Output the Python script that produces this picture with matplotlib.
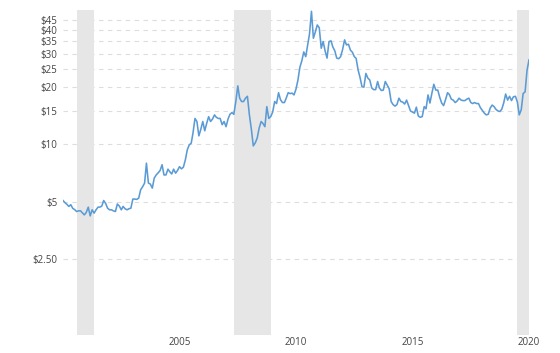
import numpy as np
import pandas as pd
import matplotlib
matplotlib.use('Agg')
import matplotlib.pyplot as plt

plt.rcParams['font.family'] = ['Open Sans', 'DejaVu Sans']

# monthly silver price (USD/oz), Aug 2000 - Aug 2020
prices = [
    # 2000 (Aug-Dec)
    5.08, 4.95, 4.85, 4.73, 4.83,
    # 2001
    4.62, 4.55, 4.45, 4.48, 4.49, 4.38, 4.27, 4.40, 4.69, 4.22, 4.54, 4.36,
    # 2002
    4.54, 4.69, 4.69, 4.75, 5.08, 4.90, 4.63, 4.54, 4.54, 4.48, 4.45, 4.87,
    # 2003
    4.75, 4.54, 4.73, 4.60, 4.54, 4.60, 4.63, 5.17, 5.17, 5.15, 5.23, 5.78,
    # 2004
    6.00, 6.27, 7.98, 6.27, 6.20, 5.90, 6.66, 6.92, 7.10, 7.30, 7.83, 6.92,
    # 2005
    6.92, 7.42, 7.20, 7.00, 7.42, 7.07, 7.30, 7.65, 7.45, 7.60, 8.30, 9.37,
    # 2006
    9.95, 10.16, 11.5, 13.7, 13.2, 11.1, 12.0, 13.2, 11.8, 12.9, 14.0, 13.2,
    # 2007
    13.6, 14.3, 13.9, 13.7, 13.7, 12.7, 13.2, 12.4, 13.6, 14.4, 14.7, 14.4,
    # 2008
    16.8, 20.3, 17.5, 16.8, 16.8, 17.5, 17.9, 14.3, 12.0, 9.83, 10.2, 10.8,
    # 2009
    12.2, 13.2, 12.9, 12.4, 15.8, 13.7, 14.0, 14.8, 16.8, 16.4, 18.7, 17.2,
    # 2010
    16.6, 16.6, 17.5, 18.7, 18.5, 18.6, 18.2, 19.5, 21.8, 25.4, 27.5, 30.6,
    # 2011
    28.9, 33.5, 38.0, 50.0, 36.1, 39.0, 42.4, 41.0, 32.0, 34.7, 31.0, 28.4,
    # 2012
    34.7, 35.0, 32.5, 31.0, 28.4, 28.2, 28.9, 31.5, 35.4, 33.3, 33.6, 31.3,
    # 2013
    30.5, 28.9, 28.3, 24.6, 22.5, 20.1, 20.0, 23.6, 22.3, 21.8, 19.8, 19.4,
    # 2014
    19.4, 21.4, 19.8, 19.2, 19.3, 21.4, 20.5, 19.6, 16.8, 16.2, 15.9, 16.2,
    # 2015
    17.5, 16.8, 16.7, 16.3, 17.1, 16.0, 15.0, 14.8, 14.6, 15.7, 14.1, 13.9,
    # 2016
    14.0, 15.8, 15.4, 18.2, 16.5, 18.6, 20.7, 19.3, 19.3, 17.7, 16.5, 16.0,
    # 2017
    17.2, 18.7, 18.3, 17.3, 17.1, 16.6, 16.9, 17.5, 17.1, 17.0, 17.0, 17.3,
    # 2018
    17.5, 16.6, 16.4, 16.6, 16.4, 16.4, 15.6, 15.1, 14.6, 14.3, 14.4, 15.5,
    # 2019
    16.1, 15.8, 15.3, 15.0, 14.9, 15.3, 16.5, 18.4, 17.1, 17.9, 17.0, 17.8,
    # 2020 (Jan-Aug)
    17.9, 16.7, 14.3, 15.2, 18.5, 18.9, 24.5, 27.8,
]
dates = pd.date_range('2000-08-01', periods=len(prices), freq='MS')

recessions = [('2001-03-01', '2001-11-30'),
              ('2007-12-01', '2009-06-30'),
              ('2020-02-01', '2020-08-01')]

y_ticks = [2.5, 5, 10, 15, 20, 25, 30, 35, 40, 45]
y_labels = ['$2.50', '$5', '$10', '$15', '$20', '$25', '$30', '$35', '$40', '$45']
x_years = [2005, 2010, 2015, 2020]

fig = plt.figure(figsize=(5.6, 3.53), dpi=100)
ax = fig.add_axes([63 / 560, 18 / 353, (529 - 63) / 560, 325 / 353])

for start, end in recessions:
    ax.axvspan(pd.Timestamp(start), pd.Timestamp(end), color='#e6e6e6', lw=0, zorder=1)

ax.plot(dates, prices, color='#5b9bd5', lw=1.15, zorder=3)

ax.set_yscale('log')
ax.set_ylim(1.0, 50.8)
ax.set_xlim(dates[0], dates[-1])

ax.yaxis.set_major_locator(matplotlib.ticker.FixedLocator(y_ticks))
ax.yaxis.set_minor_locator(matplotlib.ticker.NullLocator())
ax.set_yticklabels(y_labels)
ax.set_xticks([pd.Timestamp(f'{y}-08-01') for y in x_years])
ax.set_xticklabels([str(y) for y in x_years])

ax.grid(axis='y', color='#dddddd', lw=0.8, linestyle=(0, (4, 4)), zorder=0)
ax.set_axisbelow(True)
for s in ax.spines.values():
    s.set_visible(False)
ax.tick_params(axis='both', length=0, labelsize=7, colors='#444444')
ax.tick_params(axis='y', pad=4)
ax.tick_params(axis='x', pad=1.5)

fig.savefig('out.png', dpi=100)
